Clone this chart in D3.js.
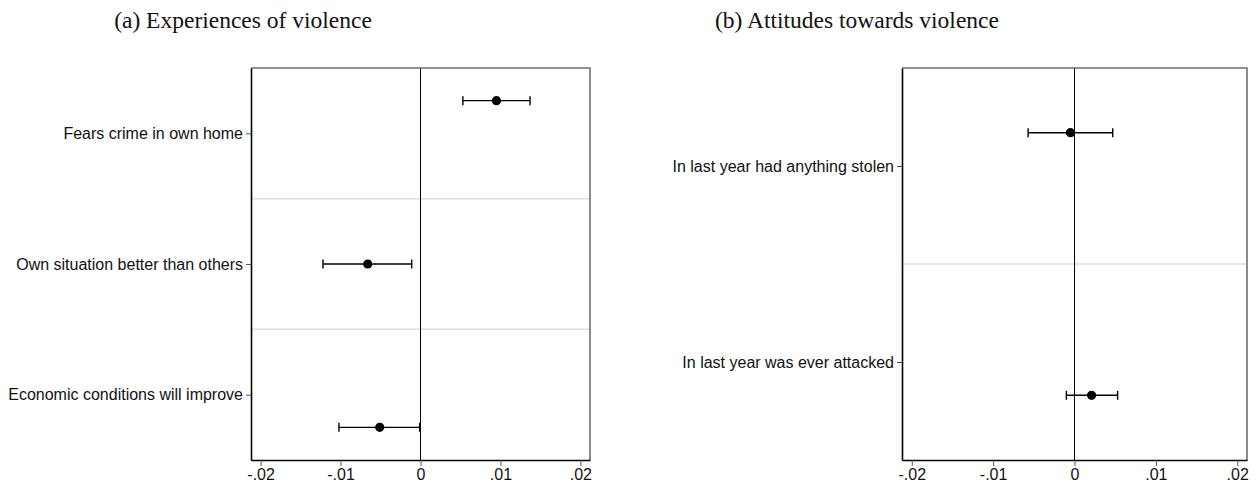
<!DOCTYPE html>
<html><head><meta charset="utf-8">
<script src="https://cdn.jsdelivr.net/npm/d3@7"></script>
<style>body{margin:0;background:#fff}svg{display:block}</style>
</head><body>
<svg id="c" width="1259" height="489"></svg>
<script>
// ---- data ----
const titleA = "(a) Experiences of violence";
const titleB = "(b) Attitudes towards violence";
const labelsA = ["Fears crime in own home", "Own situation better than others", "Economic conditions will improve"];
const estA = [0.0095, -0.0066, -0.0051];
const loA  = [0.0053, -0.0122, -0.0102];
const hiA  = [0.0137, -0.0011, -0.0001];
const offA = [-0.25, 0, 0.25];
const labelsB = ["In last year had anything stolen", "In last year was ever attacked"];
const estB = [-0.0005, 0.0021];
const loB  = [-0.0057, -0.0010];
const hiB  = [0.0047, 0.0053];
const offB = [-0.17, 0.17];
const xTicks = [-0.02, -0.01, 0, 0.01, 0.02];
const xTickLabels = ["-.02", "-.01", "0", ".01", ".02"];
const xDomain = [-0.0212, 0.0212];

const svg = d3.select("#c");
const sans = "'Liberation Sans', Arial, Helvetica, sans-serif";

function panel(cfg) {
  const {left, right, top, bottom, labels, est, lo, hi, off, title, titleX} = cfg;
  const n = labels.length;
  const x = d3.scaleLinear().domain(xDomain).range([left, right]);
  const y = d3.scaleLinear().domain([0.5, n + 0.5]).range([top, bottom]);
  const g = svg.append("g");

  svg.append("text").attr("x", titleX).attr("y", 28).attr("text-anchor", "middle")
    .attr("font-family", "'Liberation Serif', 'DejaVu Serif', serif").attr("font-size", 23.5)
    .attr("fill", "#111").text(title);

  // separators
  g.selectAll("line.sep").data(d3.range(1, n)).join("line").attr("class", "sep")
    .attr("x1", left).attr("x2", right)
    .attr("y1", d => y(d + 0.5)).attr("y2", d => y(d + 0.5))
    .attr("stroke", "#dcdcdc").attr("stroke-width", 1.5);

  // zero line
  g.append("line").attr("x1", x(0)).attr("x2", x(0)).attr("y1", top).attr("y2", bottom)
    .attr("stroke", "#000").attr("stroke-width", 1);

  // frame (top/right)
  g.append("path").attr("d", `M${left},${top}H${right}V${bottom}`)
    .attr("fill", "none").attr("stroke", "#6e6e6e").attr("stroke-width", 1.6);

  // x axis
  const xa = g.append("g").attr("transform", `translate(0,${bottom})`)
    .call(d3.axisBottom(x).tickValues(xTicks).tickSize(6).tickSizeOuter(0).tickPadding(3)
      .tickFormat((d, i) => xTickLabels[i]));
  xa.select(".domain").attr("stroke", "#000").attr("stroke-width", 1.6);
  xa.selectAll(".tick line").attr("stroke", "#555").attr("stroke-width", 1);
  xa.selectAll("text").attr("font-family", sans).attr("font-size", 16).attr("fill", "#111");

  // y axis
  const ya = g.append("g").attr("transform", `translate(${left},0)`)
    .call(d3.axisLeft(y).tickValues(d3.range(1, n + 1)).tickSize(5).tickSizeOuter(0).tickPadding(3)
      .tickFormat(d => labels[d - 1]));
  ya.select(".domain").attr("stroke", "#000").attr("stroke-width", 1.6);
  ya.selectAll(".tick line").attr("stroke", "#555").attr("stroke-width", 1);
  ya.selectAll("text").attr("font-family", sans).attr("font-size", 16).attr("fill", "#111");

  const rows = d3.range(n).map(i => ({pos: i + 1 + off[i], e: est[i], l: lo[i], h: hi[i]}));
  const cap = 4.5;
  const m = g.selectAll("g.m").data(rows).join("g").attr("class", "m");
  m.append("line").attr("x1", d => x(d.l)).attr("x2", d => x(d.h))
    .attr("y1", d => y(d.pos)).attr("y2", d => y(d.pos)).attr("stroke", "#000").attr("stroke-width", 1.4);
  m.append("line").attr("x1", d => x(d.l)).attr("x2", d => x(d.l))
    .attr("y1", d => y(d.pos) - cap).attr("y2", d => y(d.pos) + cap).attr("stroke", "#000").attr("stroke-width", 1.4);
  m.append("line").attr("x1", d => x(d.h)).attr("x2", d => x(d.h))
    .attr("y1", d => y(d.pos) - cap).attr("y2", d => y(d.pos) + cap).attr("stroke", "#000").attr("stroke-width", 1.4);
  m.append("circle").attr("cx", d => x(d.e)).attr("cy", d => y(d.pos)).attr("r", 4.6).attr("fill", "#000");
}

panel({left: 251, right: 590, top: 68, bottom: 460, labels: labelsA, est: estA, lo: loA, hi: hiA, off: offA, title: titleA, titleX: 243});
panel({left: 902, right: 1247, top: 68, bottom: 460, labels: labelsB, est: estB, lo: loB, hi: hiB, off: offB, title: titleB, titleX: 857});
</script>
</body></html>
